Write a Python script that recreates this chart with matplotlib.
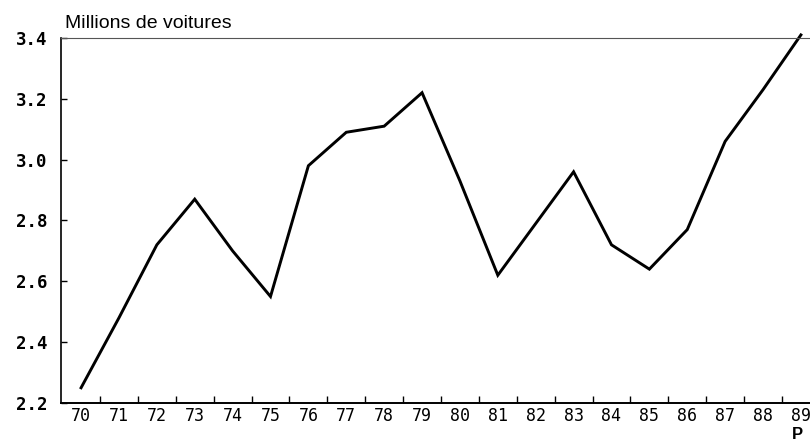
import matplotlib
matplotlib.use("Agg")
import matplotlib.pyplot as plt
from matplotlib.ticker import FixedLocator

years = list(range(70, 90))
year_labels = [str(y) for y in years]
cars_millions = [2.25, 2.48, 2.72, 2.87, 2.70, 2.55, 2.98, 3.09, 3.11, 3.22,
                 2.93, 2.62, 2.79, 2.96, 2.72, 2.64, 2.77, 3.06, 3.23, 3.41]
y_ticks = [2.2, 2.4, 2.6, 2.8, 3.0, 3.2, 3.4]
y_tick_labels = ["2.2", "2.4", "2.6", "2.8", "3.0", "3.2", "3.4"]

fig = plt.figure(figsize=(8.1, 4.41), dpi=100)
ax = fig.add_axes([0.0753, 0.0862, 0.9247, 0.8277])

ax.plot(years, cars_millions, color="black", lw=2.1, clip_on=False,
        solid_joinstyle="miter")

ax.set_xlim(69.47, 89.24)
ax.set_ylim(2.2, 3.4)

ax.spines["right"].set_visible(False)
ax.spines["top"].set_linewidth(0.8)
ax.spines["top"].set_color("#555555")
ax.spines["left"].set_linewidth(1.2)
ax.spines["bottom"].set_linewidth(1.4)

mono = "DejaVu Sans Mono"
ax.set_xticks(years)
ax.set_xticklabels(year_labels, fontfamily=mono, fontsize=12)
ax.tick_params(axis="x", which="major", length=0, pad=3)
ax.xaxis.set_minor_locator(FixedLocator([y + 0.5 for y in years[:-1]]))
ax.tick_params(axis="x", which="minor", direction="in", length=5, width=1.0)

ax.set_yticks(y_ticks)
ax.set_yticklabels(y_tick_labels, fontfamily=mono, fontsize=12.5, fontweight="bold")
ax.tick_params(axis="y", direction="in", length=4, width=1.0, pad=10)

fig.text(0.080, 0.937, "Millions de voitures", fontfamily="Liberation Sans",
         fontsize=14, ha="left", va="baseline")
fig.text(0.985, 0.004, "P", fontfamily="Liberation Sans", fontsize=12,
         fontweight="bold", ha="center", va="baseline")

fig.savefig("out.png", dpi=100)
